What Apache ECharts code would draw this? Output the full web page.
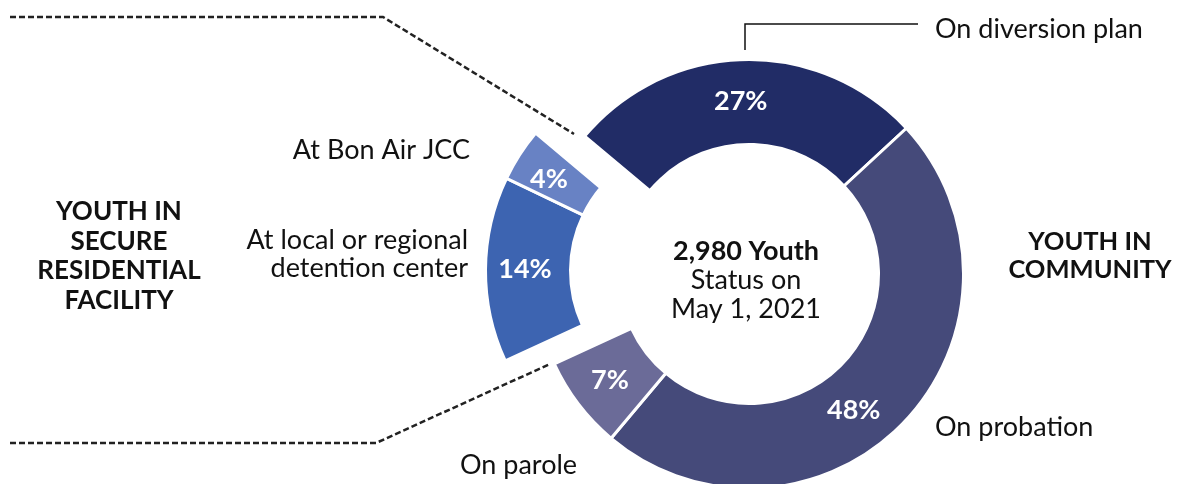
<!DOCTYPE html>
<html>
<head>
<meta charset="utf-8">
<script src="https://cdn.jsdelivr.net/npm/echarts@6/dist/echarts.min.js"></script>
<style>
html,body{margin:0;padding:0;background:#fff;}
#chart{width:1178px;height:484px;}
</style>
</head>
<body>
<div id="chart"></div>
<script>
// ---- data ----
const communityNames = ['On diversion plan', 'On probation', 'On parole'];
const communityValues = [27, 48, 7];
const residentialNames = ['At local or regional detention center', 'At Bon Air JCC'];
const residentialValues = [14, 4];
const communityColors = ['#212c66', '#454a7a', '#6b6b98'];
const residentialColors = ['#3d64b1', '#6882c4'];
const totalYouth = '2,980';
const statusDate = 'May 1, 2021';

const FONT = 'Lato, "Open Sans", sans-serif';
const sum = a => a.reduce((s, v) => s + v, 0);

const labelStyle = {
  show: true, position: 'inside', formatter: '{c}%',
  color: '#fff', fontFamily: FONT, fontWeight: 'bold', fontSize: 27
};
const hidden = {
  itemStyle: { color: 'rgba(0,0,0,0)', borderWidth: 0 },
  label: { show: false }, emphasis: { disabled: true }
};

const communityData = communityNames.map((n, i) => ({
  name: n, value: communityValues[i],
  itemStyle: { color: communityColors[i] }
}));
communityData.push(Object.assign({ name: 'gap', value: sum(residentialValues) }, hidden));

const residentialData = [Object.assign({ name: 'gap', value: sum(communityValues) }, hidden)]
  .concat(residentialNames.map((n, i) => ({
    name: n, value: residentialValues[i],
    itemStyle: { color: residentialColors[i] }
  })));

// label nudges (dx, dy) by series/data index
const labelNudge = { '0-1': [-22, 16], '0-0': [-4, 2], '1-2': [-4, 3] };
const labelLayout = function (p) {
  const n = labelNudge[p.seriesIndex + '-' + p.dataIndex];
  return n ? { dx: n[0], dy: n[1] } : {};
};

const chart = echarts.init(document.getElementById('chart'), null, { renderer: 'canvas' });

const txt = (x, y, text, opts) => ({
  type: 'text', x: x, y: y, silent: true,
  style: Object.assign({
    text: text, fontFamily: FONT, fontSize: 27, fill: '#111',
    textAlign: 'left', textVerticalAlign: 'middle'
  }, opts || {})
});

chart.setOption({
  animation: false,
  backgroundColor: '#fff',
  series: [
    {
      type: 'pie', name: 'Youth in community',
      center: [749, 274], radius: [129.5, 214.5],
      startAngle: 140, clockwise: true, avoidLabelOverlap: false,
      silent: true,
      itemStyle: { borderColor: '#fff', borderWidth: 3 },
      label: labelStyle, labelLine: { show: false },
      labelLayout: labelLayout,
      data: communityData
    },
    {
      type: 'pie', name: 'Youth in secure residential facility',
      center: [700, 271], radius: [129.5, 214.5],
      startAngle: 140, clockwise: true, avoidLabelOverlap: false,
      silent: true,
      itemStyle: { borderColor: '#fff', borderWidth: 3 },
      label: labelStyle, labelLine: { show: false },
      labelLayout: labelLayout,
      data: residentialData
    }
  ],
  graphic: [
    // dashed bracket lines
    { type: 'polyline', silent: true, shape: { points: [[10, 17], [383, 17], [574, 134]] },
      style: { stroke: '#222', lineWidth: 2.5, lineDash: [6, 3], fill: null } },
    { type: 'polyline', silent: true, shape: { points: [[10, 443], [376, 443], [550, 364]] },
      style: { stroke: '#222', lineWidth: 2.5, lineDash: [6, 3], fill: null } },
    // diversion callout
    { type: 'polyline', silent: true, shape: { points: [[745, 50], [745, 24], [918, 24]] },
      style: { stroke: '#111', lineWidth: 1.5, fill: null } },
    txt(935, 29, communityNames[0]),
    txt(935, 427, communityNames[1]),
    txt(460, 465, communityNames[2]),
    txt(470, 150, residentialNames[1], { textAlign: 'right' }),
    txt(468, 254, 'At local or regional\ndetention center', { textAlign: 'right', lineHeight: 28 }),
    txt(119, 256, 'YOUTH IN\nSECURE\nRESIDENTIAL\nFACILITY', { textAlign: 'center', fontWeight: 'bold', fontSize: 26, lineHeight: 29.5 }),
    txt(1090, 256, 'YOUTH IN\nCOMMUNITY', { textAlign: 'center', fontWeight: 'bold', fontSize: 25.5, lineHeight: 28 }),
    txt(746, 280, '{b|' + totalYouth + ' Youth}\nStatus on\n' + statusDate, {
      textAlign: 'center', lineHeight: 29,
      rich: { b: { fontWeight: 'bold', fontFamily: FONT, fontSize: 27, lineHeight: 29, fill: '#111' } }
    })
  ]
});
</script>
</body>
</html>
